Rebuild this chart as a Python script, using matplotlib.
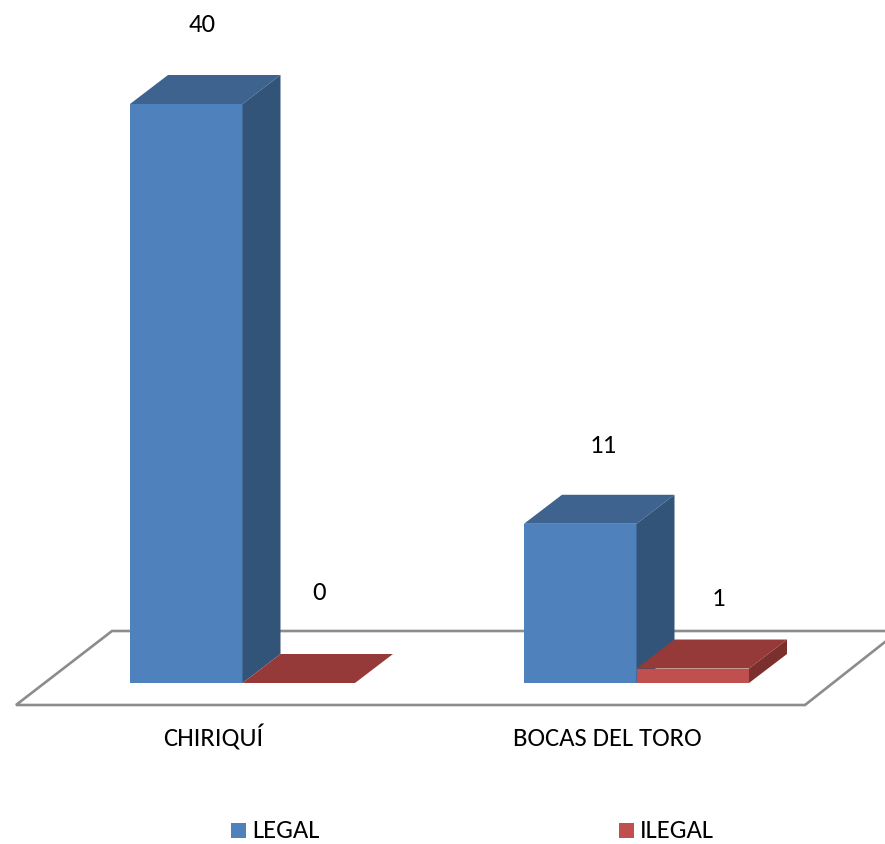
import numpy as np
import matplotlib
matplotlib.use("Agg")
import matplotlib.pyplot as plt
from matplotlib.patches import Polygon

plt.rcParams['font.family'] = ['Carlito', 'Lato', 'DejaVu Sans']

categories = ["CHIRIQUÍ", "BOCAS DEL TORO"]
legal = [40, 11]
ilegal = [0, 1]
series_names = ["LEGAL", "ILEGAL"]

# figure size in px, and where things sit on the picture
W, H = 885, 844
PX_Y = 14.475      # px for one unit of value
PX_X = 394.0       # px between the two groups
Y0_PX = 683        # baseline row
X0_PX = 130        # left edge of first bar
BAR_W = 112.5 / PX_X
DX = 38 / PX_X
DY = 29 / PX_Y
FS = 19.2

# data labels were placed by hand in the original, offsets in px from bar
legal_lab_dx = [72, 79]
legal_lab_dy = [79, 78]
ilegal_lab_dx = [189, 194]
ilegal_lab_dy = [91, 70]

def xd(px):
    return (px - X0_PX) / PX_X

def yd(py):
    return (Y0_PX - py) / PX_Y

fig = plt.figure(figsize=(W / 100, H / 100), dpi=100)
ax = fig.add_axes([0, 0, 1, 1])
ax.set_xlim(xd(0), xd(W))
ax.set_ylim(yd(H), yd(0))
ax.axis("off")

# floor
gray = "#8c8c8c"
ax.plot([xd(890), xd(112), xd(16), xd(805), xd(890)],
        [yd(631), yd(631), yd(705), yd(705), yd(638)],
        color=gray, lw=1.9, zorder=1, solid_joinstyle="miter")


def bar3d(x, val, front, top, side, z):
    ax.add_patch(Polygon([(x, 0), (x + BAR_W, 0), (x + BAR_W, val), (x, val)], color=front, lw=0, zorder=z))
    ax.add_patch(Polygon([(x, val), (x + BAR_W, val), (x + BAR_W + DX, val + DY), (x + DX, val + DY)],
                         color=top, lw=0, zorder=z))
    ax.add_patch(Polygon([(x + BAR_W, 0), (x + BAR_W + DX, DY), (x + BAR_W + DX, val + DY), (x + BAR_W, val)],
                         color=side, lw=0, zorder=z))


for i in range(len(categories)):
    bar3d(i, legal[i], "#4f81bd", "#3e638f", "#325479", 2)
    bar3d(i + BAR_W, ilegal[i], "#c0504d", "#953a38", "#7c302e", 3)

    ax.text(i + legal_lab_dx[i] / PX_X, legal[i] + legal_lab_dy[i] / PX_Y, str(legal[i]),
            ha="center", va="center", fontsize=FS, color="black")
    ax.text(i + ilegal_lab_dx[i] / PX_X, ilegal[i] + ilegal_lab_dy[i] / PX_Y, str(ilegal[i]),
            ha="center", va="center", fontsize=FS, color="black")
    ax.text(i + 83 / PX_X, yd(738), categories[i], ha="center", va="center", fontsize=FS, color="black")

# legend
leg_x = [231, 619]
colors = ["#4f81bd", "#c0504d"]
for px, name, c in zip(leg_x, series_names, colors):
    ax.add_patch(Polygon([(xd(px), yd(838)), (xd(px + 15), yd(838)), (xd(px + 15), yd(823)), (xd(px), yd(823))],
                         color=c, lw=0))
    ax.text(xd(px + 21), yd(831), name, ha="left", va="center", fontsize=FS, color="black")

fig.savefig("out.png", dpi=100)
